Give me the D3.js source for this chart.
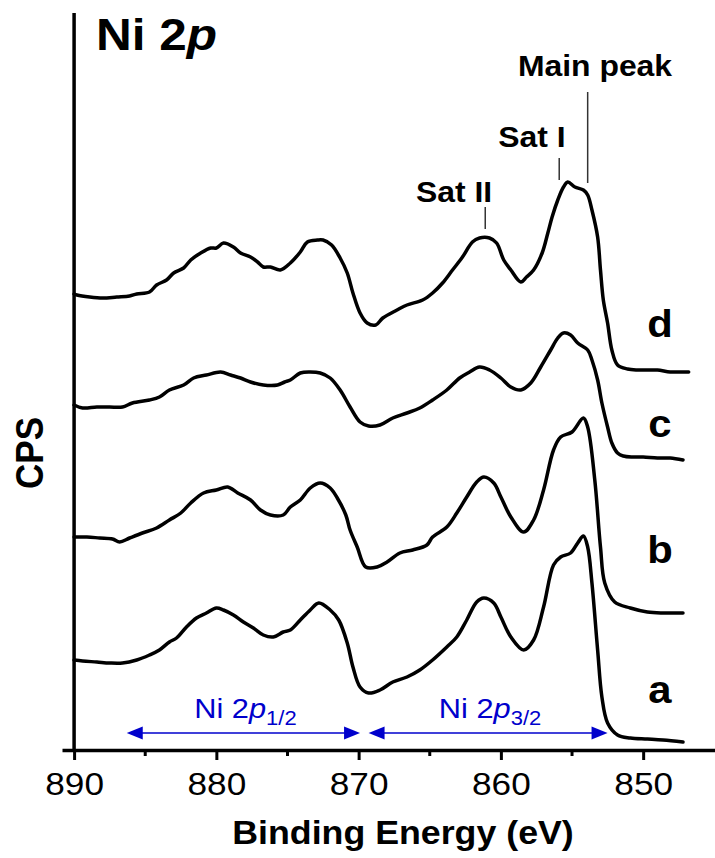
<!DOCTYPE html>
<html>
<head>
<meta charset="utf-8">
<script src="https://cdn.jsdelivr.net/npm/d3@7"></script>
<style>
  body { margin: 0; background: #fff; }
  text { font-family: Arial, "Liberation Sans", sans-serif; }
</style>
</head>
<body>
<div id="chart"></div>
<script>
// Dimensions
const width = 715, height = 858;

// Spectra : [binding energy (eV), intensity (a.u.)]
const spectrumA = [
  [890.0, 90], [889.4, 89], [888.4, 88], [887.5, 87], [886.6, 87], [885.6, 90], [884.7, 95],
  [884.0, 100], [883.3, 108], [882.8, 112], [882.1, 123], [881.4, 132], [880.7, 137], [880.0, 142],
  [879.5, 140], [878.8, 135], [878.1, 128], [877.4, 122], [876.7, 115], [876.0, 113], [875.3, 118],
  [874.8, 120], [874.1, 130], [873.4, 140], [872.8, 147], [872.0, 140], [871.4, 130], [870.8, 107],
  [870.4, 83], [869.9, 63], [869.3, 57], [868.5, 60], [867.6, 68], [866.6, 73], [865.7, 80],
  [864.8, 90], [863.8, 103], [863.1, 113], [862.4, 130], [861.7, 148], [861.2, 152], [860.5, 147],
  [860.0, 133], [859.3, 113], [858.4, 100], [857.7, 110], [857.0, 143], [856.3, 185], [855.8, 193],
  [855.1, 197], [854.6, 207], [854.2, 214], [853.9, 203], [853.6, 167], [853.2, 100], [852.9, 53],
  [852.5, 27], [851.8, 15], [850.9, 12], [849.7, 11], [848.6, 10], [847.2, 8]
];
const spectrumB = [
  [890.0, 213], [889.1, 213], [888.2, 212], [887.3, 211], [886.8, 208], [886.1, 212], [885.2, 217],
  [884.2, 222], [883.3, 230], [882.5, 237], [881.8, 247], [880.9, 257], [880.0, 260], [879.2, 263],
  [878.5, 257], [877.6, 250], [876.9, 240], [876.2, 235], [875.3, 235], [874.8, 243], [874.1, 250],
  [873.4, 262], [872.7, 267], [872.0, 262], [871.5, 252], [870.9, 235], [870.6, 220], [870.1, 203],
  [869.5, 183], [868.7, 183], [868.0, 188], [867.1, 197], [866.2, 200], [865.2, 205], [864.8, 213],
  [863.8, 223], [863.1, 237], [862.4, 253], [861.7, 268], [861.2, 273], [860.5, 267], [860.0, 253],
  [859.3, 233], [858.4, 218], [857.7, 230], [857.0, 260], [856.3, 300], [855.8, 313], [855.0, 318],
  [854.2, 332], [853.9, 323], [853.4, 270], [853.0, 203], [852.7, 167], [852.0, 148], [850.9, 142],
  [849.7, 138], [848.6, 137], [847.2, 137]
];
const spectrumC = [
  [890.0, 345], [889.4, 342], [888.4, 343], [887.5, 343], [886.6, 343], [885.9, 347], [884.7, 350],
  [884.0, 353], [883.3, 360], [882.3, 365], [881.6, 372], [880.7, 375], [879.7, 378], [879.0, 375],
  [878.3, 372], [877.6, 368], [876.7, 365], [875.7, 365], [875.2, 368], [874.8, 370], [874.1, 377],
  [873.4, 378], [872.7, 377], [872.0, 372], [871.3, 360], [870.6, 343], [869.9, 328], [869.3, 324],
  [868.5, 325], [867.6, 332], [866.6, 337], [865.7, 342], [864.8, 350], [863.8, 360], [862.9, 372],
  [862.2, 378], [861.5, 383], [860.8, 380], [860.0, 372], [859.3, 363], [858.6, 360], [857.9, 367],
  [857.2, 383], [856.5, 400], [856.0, 412], [855.6, 417], [855.1, 415], [854.6, 407], [853.9, 400],
  [853.6, 390], [853.2, 370], [852.9, 347], [852.5, 323], [852.2, 307], [851.8, 297], [851.4, 294],
  [850.7, 293], [850.0, 293], [849.0, 292], [848.1, 292], [847.2, 290]
];
const spectrumD = [
  [890.0, 456], [889.8, 455], [888.9, 453], [888.0, 452], [887.0, 453], [886.1, 454], [885.6, 456],
  [884.7, 458], [884.2, 465], [883.5, 470], [883.0, 477], [882.3, 482], [881.8, 490], [881.1, 497],
  [880.4, 502], [880.0, 502], [879.5, 507], [878.8, 503], [878.3, 497], [877.6, 493], [877.1, 488],
  [876.7, 483], [876.2, 483], [875.5, 480], [874.8, 487], [874.1, 498], [873.6, 508], [872.9, 510],
  [872.5, 510], [871.9, 505], [871.3, 492], [870.8, 477], [870.4, 457], [869.9, 437], [869.4, 427],
  [868.8, 425], [868.3, 432], [867.3, 440], [866.6, 445], [865.5, 450], [864.8, 457], [864.1, 467],
  [863.4, 480], [862.7, 493], [862.0, 508], [861.5, 512], [860.8, 512], [860.3, 507], [859.8, 490],
  [859.3, 480], [858.6, 468], [858.2, 473], [857.7, 480], [857.1, 497], [856.7, 517], [856.4, 533],
  [856.0, 550], [855.6, 563], [855.3, 568], [854.8, 563], [854.2, 560], [853.9, 555], [853.6, 540],
  [853.2, 513], [853.0, 480], [852.8, 450], [852.5, 427], [852.2, 400], [851.8, 385], [851.1, 381],
  [850.4, 380], [849.7, 380], [849.0, 380], [848.1, 378], [847.4, 378], [846.8, 378]
];
const spectra = [spectrumA, spectrumB, spectrumC, spectrumD];
const spectrumLabels = ["a", "b", "c", "d"];

// Ticks
const majorTicks = [890, 880, 870, 860, 850];
const minorTicks = [885, 875, 865, 855];

// Annotations
const peakNames = ["Main peak", "Sat I", "Sat II"];
const peakEnergies = [853.9, 855.9, 861.1];
const regionNames = ["1/2", "3/2"];
const regionRanges = [[886.3, 869.9], [869.3, 852.5]];

const blue = "#0000cc";
const stretch = 1.1;   // la figure d'origine est légèrement étirée en largeur

const svg = d3.select("#chart")
  .append("svg")
  .attr("width", width)
  .attr("height", height);

const x = d3.scaleLinear().domain([890.85, 844.95]).range([62, 715]);
const y = d3.scaleLinear().domain([0, 737]).range([750, 13]);

// Axe des x
const xAxis = svg.append("g")
  .attr("transform", "translate(0,750)")
  .call(d3.axisBottom(x).tickValues(majorTicks).tickSize(10).tickSizeOuter(0).tickFormat(d3.format("d")));
xAxis.select(".domain").attr("stroke-width", 3.5);
xAxis.selectAll(".tick line").attr("stroke-width", 3);
xAxis.selectAll(".tick text")
  .attr("y", 0)
  .attr("dy", 0)
  .attr("transform", "translate(0,45) scale(" + stretch + ",1)")
  .attr("font-size", 32)
  .attr("font-family", "Arial, 'Liberation Sans', sans-serif")
  .attr("fill", "#000");

svg.append("g")
  .attr("transform", "translate(0,750)")
  .selectAll("line")
  .data(minorTicks)
  .enter().append("line")
  .attr("x1", d => x(d)).attr("x2", d => x(d))
  .attr("y1", 0).attr("y2", 6)
  .attr("stroke", "#000")
  .attr("stroke-width", 3);

// Axe des y (sans graduations)
svg.append("line")
  .attr("x1", x(890)).attr("x2", x(890))
  .attr("y1", y(737)).attr("y2", y(0))
  .attr("stroke", "#000")
  .attr("stroke-width", 3.5);

// Spectres
const line = d3.line()
  .x(d => x(d[0]))
  .y(d => y(d[1]))
  .curve(d3.curveCatmullRom.alpha(0.5));
svg.selectAll(".spectrum")
  .data(spectra)
  .enter().append("path")
  .attr("class", "spectrum")
  .attr("d", line)
  .attr("fill", "none")
  .attr("stroke", "#000")
  .attr("stroke-width", 3.5)
  .attr("stroke-linejoin", "round")
  .attr("stroke-linecap", "round");

function stretchedText(px, py, size, weight) {
  return svg.append("text")
    .attr("transform", "translate(" + px + "," + py + ") scale(" + stretch + ",1)")
    .attr("text-anchor", "middle")
    .attr("font-size", size)
    .attr("font-weight", weight);
}

// Étiquettes a, b, c, d
const labelBaselines = [703, 563, 437, 337];
spectrumLabels.forEach((s, i) => {
  stretchedText(660, labelBaselines[i], 38, "bold").text(s);
});

// Repères des pics
const peakLines = [[92, 183], [158, 180], [207, 229]];
const peakTextPos = [[595, 76], [532, 147], [454, 202]];
peakNames.forEach((name, i) => {
  svg.append("line")
    .attr("x1", x(peakEnergies[i])).attr("x2", x(peakEnergies[i]))
    .attr("y1", peakLines[i][0]).attr("y2", peakLines[i][1])
    .attr("stroke", "#333")
    .attr("stroke-width", 1.5);
  stretchedText(peakTextPos[i][0], peakTextPos[i][1], 29, "bold").text(name);
});

// Flèches Ni 2p1/2 et Ni 2p3/2
function arrowHead(tipX, dir) {
  const yy = 733;
  svg.append("path")
    .attr("d", `M${tipX},${yy} L${tipX - dir * 16},${yy - 6.5} L${tipX - dir * 16},${yy + 6.5} Z`)
    .attr("fill", blue);
}
regionRanges.forEach((r, i) => {
  const x0 = x(r[0]), x1 = x(r[1]);
  svg.append("line")
    .attr("x1", x0 + 10).attr("x2", x1 - 10)
    .attr("y1", 733).attr("y2", 733)
    .attr("stroke", blue)
    .attr("stroke-width", 1.5);
  arrowHead(x0, -1);
  arrowHead(x1, 1);
  const t = stretchedText((x0 + x1) / 2 + 2, 718, 28, "normal").attr("fill", blue);
  t.append("tspan").text("Ni 2");
  t.append("tspan").attr("font-style", "italic").text("p");
  t.append("tspan").attr("font-size", 20).attr("dy", 7).text(regionNames[i]);
});

// Titre Ni 2p
const title = svg.append("text")
  .attr("transform", "translate(96,50) scale(" + stretch + ",1)")
  .attr("font-size", 45)
  .attr("font-weight", "bold");
title.append("tspan").text("Ni 2");
title.append("tspan").attr("font-style", "italic").text("p");

// Titres des axes
stretchedText(403, 844, 32.5, "bold").text("Binding Energy (eV)");
svg.append("text")
  .attr("transform", "translate(43,453) scale(" + stretch + ",1) rotate(-90)")
  .attr("text-anchor", "middle")
  .attr("font-size", 35)
  .attr("font-weight", "bold")
  .text("CPS");
</script>
</body>
</html>
